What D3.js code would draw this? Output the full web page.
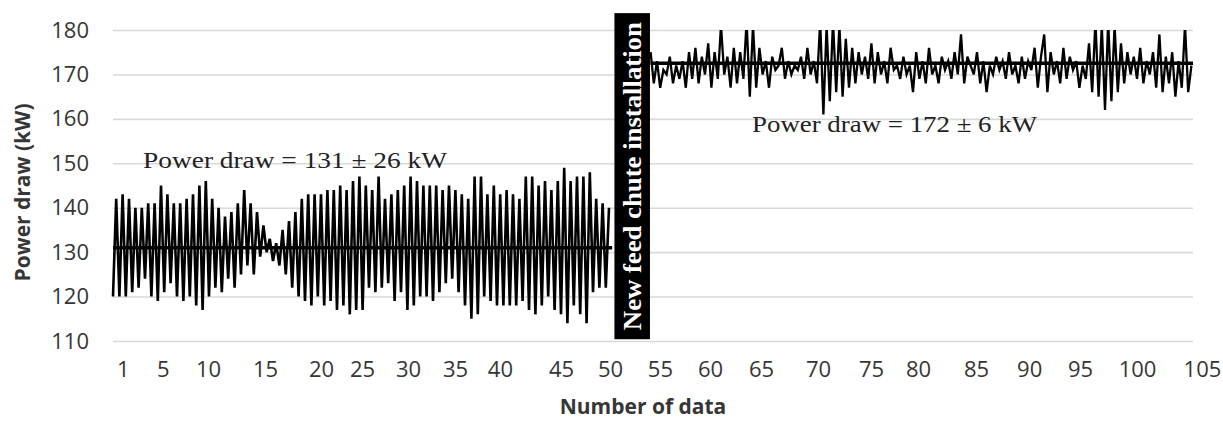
<!DOCTYPE html>
<html>
<head>
<meta charset="utf-8">
<script src="https://cdn.jsdelivr.net/npm/d3@7"></script>
<style>
  html, body { margin: 0; padding: 0; background: #ffffff; }
  svg { display: block; }
</style>
</head>
<body>
<svg id="chart" width="1223" height="421"></svg>
<script>
// ---------------- data ----------------
const yTickValues = [110, 120, 130, 140, 150, 160, 170, 180];
const xTickLabels = ['1','5','10','15','20','25','30','35','40','45','50','55','60','65','70','75','80','85','90','95','100','105'];
// sample index at which each "Number of data" label sits
const xTickAt = [3.1, 15.6, 29.7, 47.5, 65, 77.8, 92.2, 106.9, 120.9, 140, 155.3, 170.9, 186.6, 202.5, 220.3, 236.9, 251.6, 269.7, 286.3, 302.2, 320, 340.3];

// power draw before the new feed chute (kW), alternating low / high readings
const powerBefore = [
  120,142, 120,143, 120,142, 121,140, 122,140, 124,141, 120,141, 119,145, 121,143, 123,141,
  120,141, 119,142, 120,143, 118,145, 117,146, 120,142, 122,140, 121,138, 124,139, 122,141,
  125,144, 127,141, 125,139, 129,136, 130,133, 128,132, 127,135, 125,137, 122,139, 120,142,
  119,143, 118,143, 120,143, 118,144, 119,144, 117,145, 118,144, 116,146, 117,147, 117,145,
  122,144, 121,147, 122,142, 123,143, 119,144, 121,145, 117,147, 118,146, 120,145, 120,145,
  119,145, 121,144, 123,145, 124,144, 121,143, 118,142, 115,147, 116,147, 120,143, 119,145,
  118,143, 118,144, 118,143, 118,142, 119,147, 117,147, 116,145, 118,146, 120,144, 117,146,
  116,149, 114,146, 118,147, 116,147, 114,148, 121,142, 122,141, 122,140
];
// power draw after the new feed chute (kW)
const powerAfter = [
  175,168,173,167,171,170,174,168,172,169,
  173,167,175,169,176,168,174,170,177,167,
  175,169,181,170,174,167,176,168,175,169,
  182,165,181,167,176,170,173,167,174,171,
  172,176,169,173,170,172,171,174,169,176,
  170,173,168,182,161,181,164,182,166,181,
  165,178,167,176,168,175,170,174,169,177,
  168,175,170,173,168,176,171,172,169,174,
  170,172,166,175,169,173,168,176,170,172,
  168,174,171,173,169,175,170,179,168,174,
  172,170,175,168,173,166,172,170,174,171,
  173,169,175,170,172,168,174,169,173,171,
  176,167,174,179,166,175,170,173,168,176,
  169,174,171,173,167,172,169,177,166,182,
  165,181,162,182,164,181,166,177,168,175,
  170,174,169,176,168,173,170,175,167,179,
  166,174,168,175,165,173,167,181,166,172
];
const afterStartIndex = 168;          // sample index of first "after" reading
const meanBefore = 131;
const meanAfter = 172.5;
const eventSpan = [156.7, 167.8];     // sample range covered by the event marker
const eventText = 'New feed chute installation';
const noteBefore = 'Power draw = 131 \u00B1 26 kW';
const noteAfter = 'Power draw = 172 \u00B1 6 kW';
const xTitle = 'Number of data';
const yTitle = 'Power draw (kW)';

// ---------------- chart ----------------
const svg = d3.select('#chart');
const pLeft = 113, pRight = 1193, pTop = 30, pBottom = 341;
const x = d3.scaleLinear().domain([0, 337.5]).range([pLeft, pRight]);
const y = d3.scaleLinear().domain([110, 180]).range([pBottom, pTop]);
const sansFont = "'Open Sans', 'Noto Sans', sans-serif";
const serifFont = "'Liberation Serif', 'Times New Roman', serif";
const textCol = '#363636';

// gridlines
const yAxis = d3.axisLeft(y).tickValues(yTickValues).tickSize(-(pRight - pLeft)).tickFormat(d3.format('d')).tickPadding(24);
const gy = svg.append('g').attr('transform', `translate(${pLeft},0)`).call(yAxis);
gy.select('.domain').remove();
gy.selectAll('.tick line').attr('stroke', '#d9d9d9').attr('stroke-width', 1.6);
gy.selectAll('.tick text')
  .attr('font-family', sansFont).attr('font-size', 22).attr('fill', textCol);

// x labels
const xAxis = d3.axisBottom(x).tickValues(xTickAt).tickSize(0).tickPadding(0)
  .tickFormat((d, i) => xTickLabels[i]);
const gx = svg.append('g').attr('transform', `translate(0,${pBottom})`).call(xAxis);
gx.select('.domain').remove();
gx.selectAll('.tick text')
  .attr('font-family', sansFont).attr('font-size', 22).attr('fill', textCol)
  .attr('dy', 0).attr('y', 36);

// clip
svg.append('clipPath').attr('id', 'plotclip')
  .append('rect').attr('x', pLeft - 2).attr('y', pTop).attr('width', pRight - pLeft + 4).attr('height', pBottom - pTop);

const plot = svg.append('g').attr('clip-path', 'url(#plotclip)');
const line = d3.line().x(d => x(d[0])).y(d => y(d[1]));

plot.append('path')
  .datum(powerBefore.map((v, i) => [i, v]))
  .attr('d', line).attr('fill', 'none').attr('stroke', '#000').attr('stroke-width', 2.6);

plot.append('path')
  .datum(powerAfter.map((v, i) => [afterStartIndex + i, v]))
  .attr('d', line).attr('fill', 'none').attr('stroke', '#000').attr('stroke-width', 2.3);

// mean lines
svg.append('path')
  .datum([[0, meanBefore], [powerBefore.length, meanBefore]])
  .attr('d', line).attr('stroke', '#000').attr('stroke-width', 3.4);
svg.append('path')
  .datum([[afterStartIndex, meanAfter], [x.domain()[1], meanAfter]])
  .attr('d', line).attr('stroke', '#000').attr('stroke-width', 3.4);

// event marker
svg.append('rect')
  .attr('x', x(eventSpan[0])).attr('width', x(eventSpan[1]) - x(eventSpan[0]))
  .attr('y', y(183.8)).attr('height', y(110.4) - y(183.8))
  .attr('fill', '#000');
const ecx = x(eventSpan[1]) - 8.5;
const ecy = (y(183.8) + y(110.4)) / 2;
svg.append('text')
  .attr('transform', `translate(${ecx},${ecy}) rotate(-90)`)
  .attr('text-anchor', 'middle')
  .attr('font-family', serifFont).attr('font-weight', 'bold').attr('font-size', 25.5)
  .attr('fill', '#fff')
  .attr('textLength', 308).attr('lengthAdjust', 'spacingAndGlyphs')
  .text(eventText);

// notes
svg.append('text')
  .attr('x', x(9.4)).attr('y', y(148.9))
  .attr('font-family', serifFont).attr('font-size', 24).attr('fill', '#222')
  .attr('textLength', 304).attr('lengthAdjust', 'spacingAndGlyphs')
  .text(noteBefore);
svg.append('text')
  .attr('x', x(199.7)).attr('y', y(157.0))
  .attr('font-family', serifFont).attr('font-size', 24).attr('fill', '#222')
  .attr('textLength', 285).attr('lengthAdjust', 'spacingAndGlyphs')
  .text(noteAfter);

// axis titles
svg.append('text')
  .attr('x', 643).attr('y', 414)
  .attr('text-anchor', 'middle')
  .attr('font-family', sansFont).attr('font-weight', 'bold').attr('font-size', 21).attr('fill', textCol)
  .text(xTitle);
svg.append('text')
  .attr('transform', `translate(30,${(97 + 288) / 2}) rotate(-90)`)
  .attr('text-anchor', 'middle')
  .attr('font-family', sansFont).attr('font-weight', 'bold').attr('font-size', 21).attr('fill', textCol)
  .text(yTitle);
</script>
</body>
</html>
